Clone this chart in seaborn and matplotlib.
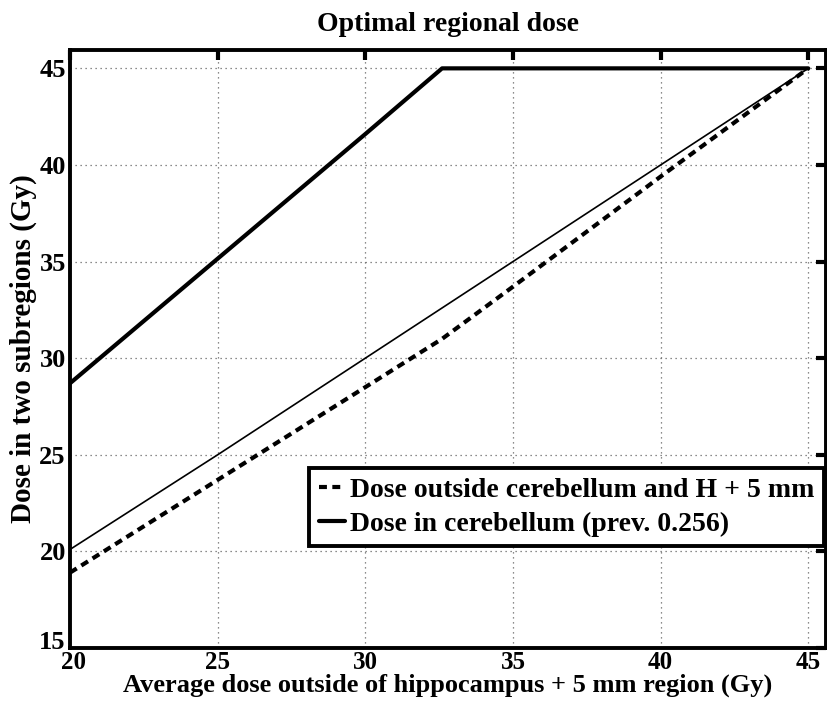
import matplotlib
matplotlib.use("Agg")
import matplotlib.pyplot as plt
import matplotlib.transforms as mtransforms
import seaborn as sns
import pandas as pd

# Data
x_vals = [20, 25, 30, 32.6, 35, 40, 45]
cerebellum = [28.7, 35.15, 41.6, 45.0, 45.0, 45.0, 45.0]
outside = [18.9, 23.7, 28.5, 31.0, 33.7, 39.4, 45.0]
reference = [20.1, 25.0, 30.0, 32.6, 35.0, 40.0, 45.0]
x_ticks = [20, 25, 30, 35, 40, 45]
y_ticks = [15, 20, 25, 30, 35, 40, 45]

sns.set_style("white")
plt.rcParams['font.family'] = ['Liberation Serif', 'DejaVu Serif']
plt.rcParams['font.weight'] = 'bold'
plt.rcParams['text.color'] = 'black'
plt.rcParams['axes.labelcolor'] = 'black'
plt.rcParams['xtick.color'] = 'black'
plt.rcParams['ytick.color'] = 'black'

fig = plt.figure(figsize=(8.28, 7.12), dpi=100)
ax = fig.add_axes([70/828, 1-648/712, (826-70)/828, (648-50)/712])

df = pd.DataFrame({"x": x_vals, "cereb": cerebellum, "out": outside, "ref": reference})

sns.lineplot(data=df, x="x", y="ref", ax=ax, color="black", linewidth=1.2, legend=False)
sns.lineplot(data=df, x="x", y="out", ax=ax, color="black", linewidth=3.0,
             linestyle=(0, (1.9, 1.3)), label="Dose outside cerebellum and H + 5 mm")
sns.lineplot(data=df, x="x", y="cereb", ax=ax, color="black", linewidth=3.0,
             label="Dose in cerebellum (prev. 0.256)")

ax.set_xlim(20, 45.6)
ax.set_ylim(15, 45.95)
ax.set_xticks(x_ticks)
ax.set_yticks(y_ticks)
ax.set_xticklabels([str(v) for v in x_ticks], fontsize=18, fontweight='bold')
ax.set_yticklabels([str(v) for v in y_ticks], fontsize=19, fontweight='bold')
ax.tick_params(axis='both', direction='in', length=7, width=3, top=True, right=True,
               colors='black')
ax.tick_params(axis='x', pad=2)
ax.tick_params(axis='y', pad=3)
ax.grid(True, linestyle=(0, (1, 3)), color='#666666', linewidth=0.9)
for s in ax.spines.values():
    s.set_linewidth(2.8)
    s.set_color('black')

# nudge the corner labels apart so "15" and "20" do not collide
lab15 = ax.get_yticklabels()[0]
lab15.set_transform(lab15.get_transform() +
                    mtransforms.ScaledTranslation(0, 8/100, fig.dpi_scale_trans))
lab20 = ax.get_xticklabels()[0]
lab20.set_transform(lab20.get_transform() +
                    mtransforms.ScaledTranslation(4/100, 0, fig.dpi_scale_trans))

ax.set_title("Optimal regional dose", fontsize=20, fontweight='bold', pad=14)
ax.set_xlabel("Average dose outside of hippocampus + 5 mm region (Gy)", fontsize=19,
              fontweight='bold', labelpad=0)
ax.set_ylabel("Dose in two subregions (Gy)", fontsize=21, fontweight='bold', labelpad=2)

leg = ax.legend(loc='lower right', bbox_to_anchor=(0.997, 0.17),
                prop={'weight': 'bold', 'size': 20}, frameon=True, fancybox=False,
                handlelength=0.95, handletextpad=0.15, borderpad=0.35, labelspacing=0.3,
                borderaxespad=0)
leg.get_frame().set_edgecolor('black')
leg.get_frame().set_linewidth(2.8)
leg.get_frame().set_alpha(1)

fig.savefig("out.png", dpi=100)
